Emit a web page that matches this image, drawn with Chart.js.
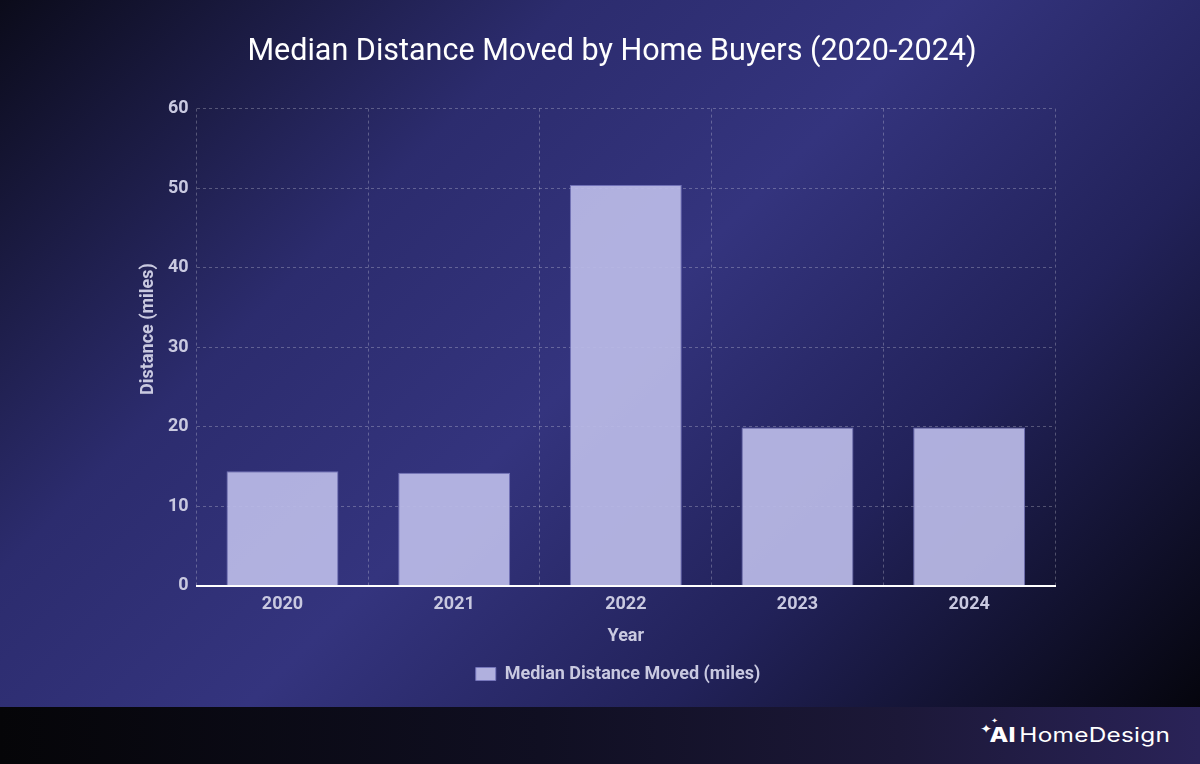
<!DOCTYPE html>
<html>
<head>
<meta charset="utf-8">
<script src="https://cdn.jsdelivr.net/npm/chart.js@4.4.1/dist/chart.umd.min.js"></script>
<style>
  html, body { margin: 0; padding: 0; width: 1200px; height: 764px; overflow: hidden; font-family: Roboto, sans-serif; }
  #main {
    position: absolute; left: 0; top: 0; width: 1200px; height: 707px;
    background: linear-gradient(135deg, #0b0b1a 0%, #2c2c6e 30%, #34347e 50%, #22225a 72%, #05050d 100%);
  }
  #footer {
    position: absolute; left: 0; top: 707px; width: 1200px; height: 57px;
    background: linear-gradient(90deg, #050508 0%, #100f22 45%, #1c1838 75%, #2a2358 100%);
  }
  #logo {
    position: absolute; right: 30px; top: 16px; color: #fff; font-size: 20px; letter-spacing: 0.2px;
    font-family: Inter, Roboto, sans-serif; transform: scaleX(1.22); transform-origin: right center;
  }
  #logo b { font-weight: 800; margin-right: 3px; }
  #logo .s1 { position: absolute; left: -8px; top: -2px; font-size: 12px; }
  #logo .s2 { position: absolute; left: 1px; top: -7px; font-size: 7px; }
  #chart { position: absolute; left: 0; top: 0; }
</style>
</head>
<body>
<div id="main"><canvas id="chart" width="1200" height="707"></canvas></div>
<div id="footer"><div id="logo"><span class="s1">✦</span><span class="s2">✦</span><b>AI</b>HomeDesign</div></div>
<script>
'use strict';

const YEARS     = ['2020', '2021', '2022', '2023', '2024'];
const DISTANCES = [14.4, 14.2, 50.4, 19.9, 19.9];
const Y_TICKS   = [0, 10, 20, 30, 40, 50, 60];
const Y_TITLE   = 'Distance (miles)';

const TEXT_COLOR = '#c9c9e0';
const GRID_COLOR = 'rgba(255,255,255,0.25)';
const DASH       = [3, 3];

Chart.defaults.font.family = 'Roboto, sans-serif';

const labelFont = { size: 18, weight: 'bold' };

// title, legend and y title sit a little off the plot centre in the original
const offsetLabels = {
  id: 'offsetLabels',
  afterLayout(chart) {
    const shift = (box, cx) => {
      const d = cx - (box.left + box.right) / 2;
      box.left += d; box.right += d;
    };
    shift(chart.titleBlock, 612);
    shift(chart.legend, 618);
  },
  afterDraw(chart) {
    const ctx = chart.ctx;
    ctx.save();
    ctx.translate(148, 329);
    ctx.rotate(-Math.PI / 2);
    ctx.font = 'bold 18px Roboto, sans-serif';
    ctx.fillStyle = TEXT_COLOR;
    ctx.textAlign = 'center';
    ctx.textBaseline = 'middle';
    ctx.fillText(Y_TITLE, 0, 0);
    ctx.restore();
  },
};

new Chart(document.getElementById('chart'), {
  type: 'bar',
  data: {
    labels: YEARS,
    datasets: [{
      label: 'Median Distance Moved (miles)',
      data: DISTANCES,
      backgroundColor: 'rgba(188,188,232,0.92)',
      borderColor: 'rgba(120,120,190,0.9)',
      borderWidth: 1,
      barPercentage: 0.815,
      categoryPercentage: 0.8,
    }],
  },
  options: {
    responsive: false,
    animation: false,
    layout: { padding: { left: 160, right: 145, top: 24, bottom: 14 } },
    plugins: {
      title: {
        display: true,
        text: 'Median Distance Moved by Home Buyers (2020-2024)',
        color: '#ffffff',
        font: { size: 30.5, weight: 'normal' },
        padding: { top: 10, bottom: 38 },
      },
      legend: {
        position: 'bottom',
        labels: {
          color: TEXT_COLOR,
          font: labelFont,
          boxWidth: 20, boxHeight: 13,
          padding: 13,
        },
      },
      tooltip: { enabled: false },
    },
    scales: {
      x: {
        grid: { color: GRID_COLOR, drawTicks: false },
        border: { color: '#ffffff', width: 2, dash: DASH },
        ticks: { color: TEXT_COLOR, font: labelFont, padding: 8 },
        title: { display: true, text: 'Year', color: TEXT_COLOR, font: labelFont, padding: { top: 2, bottom: 5 } },
      },
      y: {
        min: 0, max: 60,
        afterBuildTicks: axis => { axis.ticks = Y_TICKS.map(v => ({ value: v })); },
        grid: { color: GRID_COLOR, drawTicks: false },
        border: { display: false, dash: DASH },
        ticks: { color: TEXT_COLOR, font: labelFont, padding: 8 },
      },
    },
  },
  plugins: [offsetLabels],
});
</script>
</body>
</html>
